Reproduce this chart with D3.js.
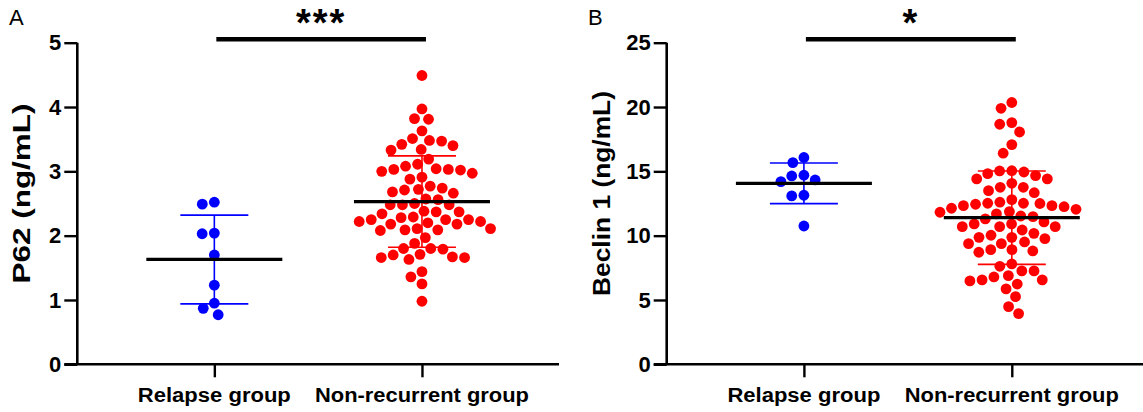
<!DOCTYPE html>
<html>
<head>
<meta charset="utf-8">
<script src="https://cdn.jsdelivr.net/npm/d3@7/dist/d3.min.js"></script>
<style>
  html, body { margin: 0; padding: 0; background: #fff; }
  svg { display: block; }
  text { font-family: "Liberation Sans", Arial, sans-serif; }
</style>
</head>
<body>
<svg id="chart" width="1143" height="412"></svg>
<script>
// ---------------- DATA ----------------
const categories = ["Relapse group", "Non-recurrent group"];

// Panel A: P62 (ng/mL)
const p62Relapse = [2.52, 2.49, 2.03, 2.04, 1.70, 1.23, 0.95, 0.87, 0.77];
const p62NonRecurrent = [
  4.49, 3.97, 3.82, 3.81, 3.63, 3.51, 3.48, 3.47, 3.42, 3.40, 3.34, 3.33,
  3.19, 3.11, 3.08, 3.04, 3.03, 3.03, 3.02, 3.00, 2.97, 2.91, 2.88, 2.77,
  2.74, 2.72, 2.71, 2.68, 2.66, 2.57, 2.56, 2.50, 2.48, 2.48, 2.48, 2.38,
  2.37, 2.37, 2.34, 2.29, 2.28, 2.25, 2.25, 2.25, 2.22, 2.22, 2.20, 2.18,
  2.18, 2.11, 2.11, 2.09, 2.09, 2.08, 1.97, 1.88, 1.80, 1.80, 1.79, 1.71,
  1.70, 1.67, 1.66, 1.66, 1.63, 1.44, 1.36, 1.25, 0.98
];
const p62Mean = [1.63, 2.53];
const p62SD = [0.69, 0.71];

// Panel B: Beclin 1 (ng/mL)
const beclinRelapse = [16.08, 15.68, 14.70, 14.64, 14.33, 14.20, 13.14, 13.09, 10.75];
const beclinNonRecurrent = [
  20.35, 19.90, 18.79, 18.66, 18.06, 17.08, 16.41, 15.05, 15.03, 14.95,
  14.82, 14.67, 14.41, 14.41, 14.07, 13.76, 13.76, 13.50, 13.34, 12.80,
  12.60, 12.52, 12.52, 12.50, 12.44, 12.33, 12.33, 12.25, 12.13, 12.05,
  11.87, 11.82, 11.69, 11.53, 11.48, 11.30, 11.07, 10.91, 10.91, 10.70,
  10.70, 10.70, 10.44, 10.18, 10.03, 9.87, 9.87, 9.77, 9.51, 9.38,
  9.38, 8.91, 8.91, 8.81, 8.71, 7.80, 7.62, 7.26, 7.26, 6.89,
  6.79, 6.56, 6.56, 6.48, 6.24, 5.86, 5.26, 4.48, 3.94
];
const beclinMean = [14.07, 11.40];
const beclinSD = [1.58, 3.63];

const p62Ticks = [0, 1, 2, 3, 4, 5];
const beclinTicks = [0, 5, 10, 15, 20, 25];
const significance = ["***", "*"];
const panelLetters = ["A", "B"];
const yLabels = ["P62 (ng/mL)", "Beclin 1 (ng/mL)"];

// ---------------- DRAW ----------------
const svg = d3.select("#chart");
const groupColors = ["#0000ff", "#ff0000"];
const R = 5.4;

function beeswarm(values, yScale, diam) {
  // deterministic dodge: place each point at smallest |offset| without overlap
  const order = values.map((v, i) => i).sort((a, b) => values[b] - values[a]);
  const placed = [];
  const out = new Array(values.length);
  for (const i of order) {
    const y = yScale(values[i]);
    const near = placed.filter(p => Math.abs(p.y - y) < diam);
    const cands = [0];
    for (const p of near) {
      const dx = Math.sqrt(diam * diam - (p.y - y) * (p.y - y));
      cands.push(p.x + dx, p.x - dx);
    }
    cands.sort((a, b) => Math.abs(a) - Math.abs(b) || a - b);
    let chosen = 0;
    for (const c of cands) {
      const ok = near.every(p => (p.x - c) ** 2 + (p.y - y) ** 2 >= diam * diam - 0.01);
      if (ok) { chosen = c; break; }
    }
    placed.push({ x: chosen, y });
    out[i] = { x: chosen, y, v: values[i] };
  }
  return out;
}

function panel(opts) {
  const { x0, x1, groups, means, sds, ticks, ymax, sig, letter, ylabel, letterX, ylabelX, ylabelLen } = opts;
  const y = d3.scaleLinear().domain([0, ymax]).range([364.3, 42.7]);
  const x = d3.scalePoint().domain(categories).range([x0, x1]).padding(0.66);
  const g = svg.append("g");

  // y axis
  const yAx = g.append("g").attr("transform", `translate(${x0},0)`)
    .call(d3.axisLeft(y).tickValues(ticks).tickSize(13).tickPadding(3).tickFormat(d3.format("d")));
  yAx.select(".domain").attr("stroke", "#000").attr("stroke-width", 2.6)
    .attr("d", `M0,${y(ymax)}V${y(0)}`);
  yAx.selectAll(".tick line").attr("stroke", "#000").attr("stroke-width", 2.4);
  yAx.selectAll(".tick text").attr("fill", "#000")
    .style("font-size", "22px").style("font-weight", "bold");

  // x axis
  const xAx = g.append("g").attr("transform", `translate(0,${y(0)})`)
    .call(d3.axisBottom(x).tickSize(13).tickPadding(10).tickFormat(""));
  xAx.select(".domain").attr("stroke", "#000").attr("stroke-width", 2.6)
    .attr("d", `M${x0 - 13},0H${x1}`);
  xAx.selectAll(".tick line").attr("stroke", "#000").attr("stroke-width", 2.4);
  const labelWidths = [153, 214];
  categories.forEach((c, i) => {
    g.append("text").attr("x", x(c)).attr("y", 402)
      .attr("text-anchor", "middle")
      .attr("textLength", labelWidths[i]).attr("lengthAdjust", "spacingAndGlyphs")
      .style("font-size", "20px").style("font-weight", "bold").attr("fill", "#000")
      .text(c);
  });

  // y label
  g.append("text")
    .attr("transform", `translate(${ylabelX},${(y(0) + y(ymax)) / 2 - 10}) rotate(-90)`)
    .attr("text-anchor", "middle")
    .attr("textLength", ylabelLen).attr("lengthAdjust", "spacingAndGlyphs")
    .style("font-size", "23px").style("font-weight", "bold").attr("fill", "#000")
    .text(ylabel);

  // panel letter
  g.append("text").attr("x", letterX).attr("y", 25)
    .style("font-size", "22px").attr("fill", "#000").text(letter);

  // dots, error bars
  groups.forEach((vals, gi) => {
    const cx = x(categories[gi]);
    const col = groupColors[gi];
    const m = means[gi], s = sds[gi];
    const pts = beeswarm(vals, y, 12.2);
    // SD whisker
    g.append("line").attr("x1", cx).attr("x2", cx)
      .attr("y1", y(m + s)).attr("y2", y(m - s))
      .attr("stroke", col).attr("stroke-width", 1.6);
    [m + s, m - s].forEach(v => {
      g.append("line").attr("x1", cx - 34).attr("x2", cx + 34)
        .attr("y1", y(v)).attr("y2", y(v))
        .attr("stroke", col).attr("stroke-width", 1.6);
    });
    g.append("g").selectAll("circle").data(pts).join("circle")
      .attr("cx", d => cx + d.x).attr("cy", d => d.y).attr("r", R)
      .attr("fill", col);
    // mean line
    g.append("line").attr("x1", cx - 68).attr("x2", cx + 68)
      .attr("y1", y(m)).attr("y2", y(m))
      .attr("stroke", "#000").attr("stroke-width", 3.2);
  });

  // significance bar
  const xa = x(categories[0]) + 2, xb = x(categories[1]) + 4;
  g.append("line").attr("x1", xa).attr("x2", xb).attr("y1", 39.3).attr("y2", 39.3)
    .attr("stroke", "#000").attr("stroke-width", 4.5);
  g.append("text").attr("x", (xa + xb) / 2).attr("y", 36)
    .attr("text-anchor", "middle")
    .style("font-size", "38px").style("font-weight", "bold")
    .style("letter-spacing", "2px").attr("fill", "#000")
    .text(sig);
}

panel({
  x0: 77.3, x1: 559, groups: [p62Relapse, p62NonRecurrent],
  means: p62Mean, sds: p62SD, ticks: p62Ticks, ymax: 5,
  sig: significance[0], letter: panelLetters[0], ylabel: yLabels[0],
  letterX: 9, ylabelX: 30, ylabelLen: 180
});
panel({
  x0: 666.7, x1: 1149, groups: [beclinRelapse, beclinNonRecurrent],
  means: beclinMean, sds: beclinSD, ticks: beclinTicks, ymax: 25,
  sig: significance[1], letter: panelLetters[1], ylabel: yLabels[1],
  letterX: 588, ylabelX: 610, ylabelLen: 205
});
</script>
</body>
</html>
